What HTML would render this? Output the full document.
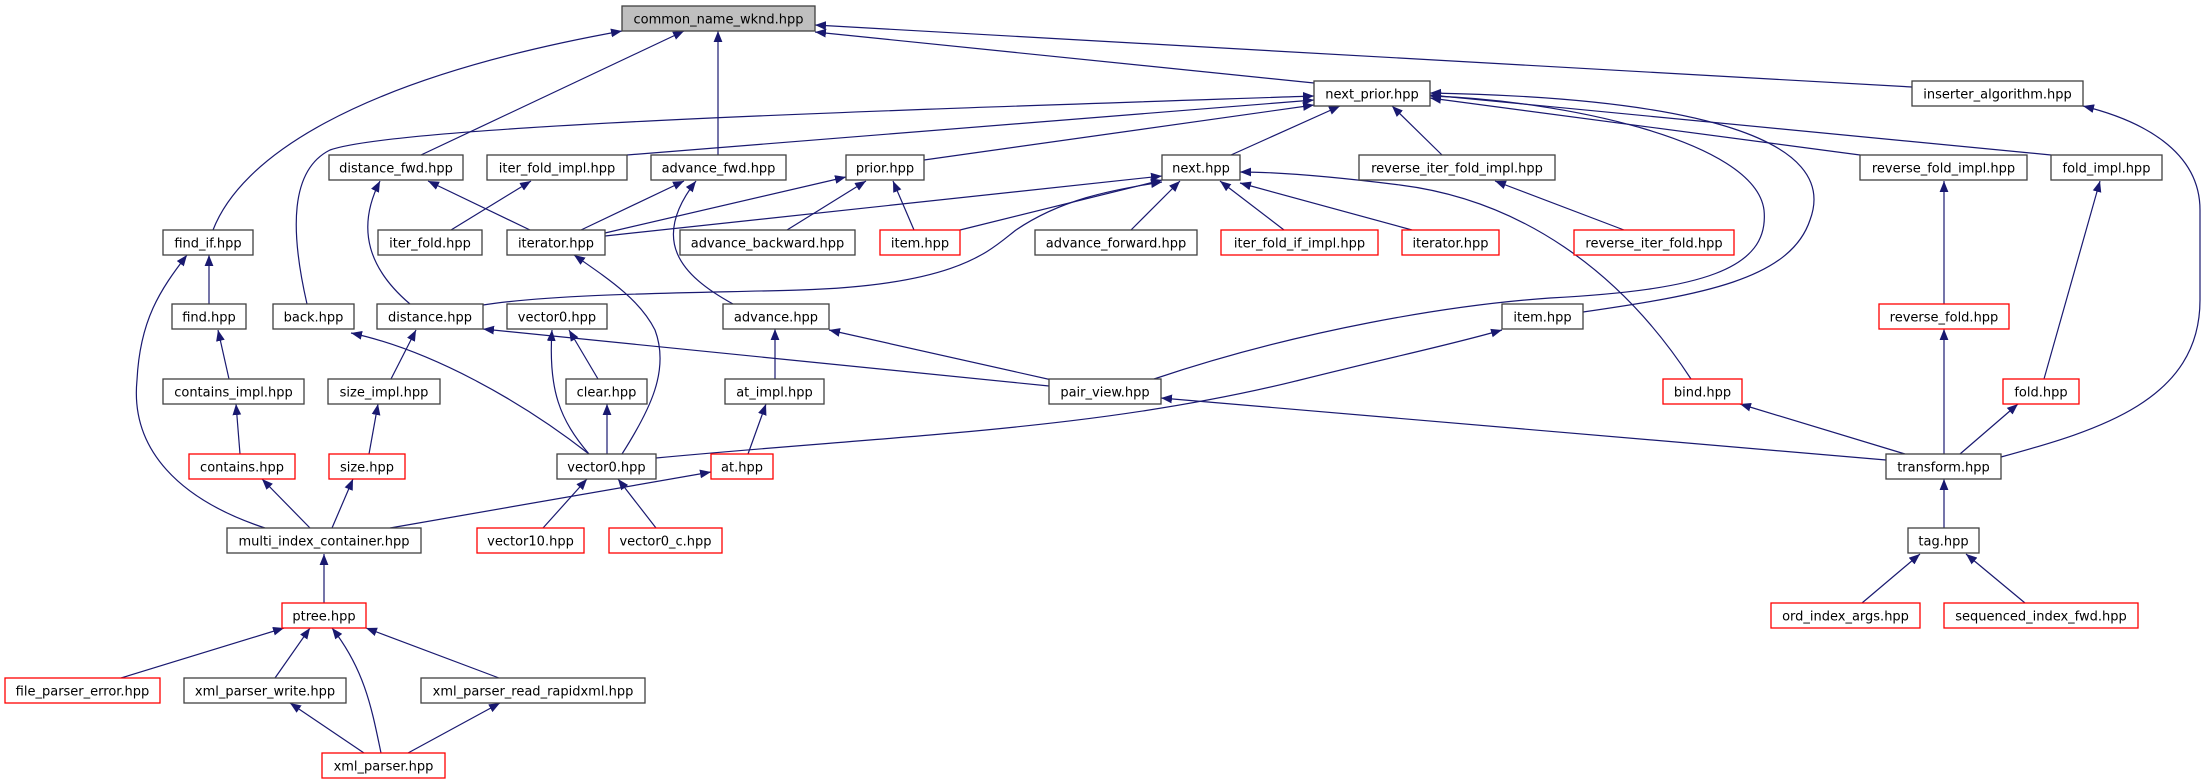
<!DOCTYPE html>
<html><head><meta charset="utf-8"><style>
html,body{margin:0;padding:0;background:#fff;}
svg{display:block;}
text{font-family:"DejaVu Sans","Liberation Sans",sans-serif;font-size:13px;fill:#000;}
.e{fill:none;stroke:#191970;stroke-width:1.2;marker-end:url(#a);}
.n{fill:#fff;stroke:#404040;stroke-width:1.3;}
.r{fill:#fff;stroke:#ff0000;stroke-width:1.3;}
</style></head><body>
<svg width="2206" height="784" viewBox="0 0 2206 784" xmlns="http://www.w3.org/2000/svg">
<defs><marker id="a" viewBox="0 0 10 8" markerWidth="11" markerHeight="9" refX="10" refY="4" orient="auto" markerUnits="userSpaceOnUse"><path d="M0,0 L10,4 L0,8 z" fill="#191970"/></marker></defs>
<g>
<path class="e" d="M1314,83 L815,32"/>
<path class="e" d="M1912,87 L815,25"/>
<path class="e" d="M213,230 C240,160 350,80 622,31"/>
<path class="e" d="M421,155 L684,31"/>
<path class="e" d="M718,155 L718,31"/>
<path class="e" d="M307,304 C290,230 290,170 330,150 C400,125 900,110 1314,96"/>
<path class="e" d="M627,155 L1314,100"/>
<path class="e" d="M924,160 L1314,105"/>
<path class="e" d="M1231,155 L1340,106"/>
<path class="e" d="M1442,155 L1392,106"/>
<path class="e" d="M1860,155 L1430,98"/>
<path class="e" d="M2051,155 L1430,95"/>
<path class="e" d="M1154,379 C1300,330 1450,305 1550,298 C1700,290 1770,270 1764,210 C1755,140 1560,100 1430,96"/>
<path class="e" d="M1583,312 C1700,295 1790,280 1810,220 C1840,140 1700,98 1430,93"/>
<path class="e" d="M2001,457 C2100,430 2200,400 2200,300 L2200,210 C2200,150 2140,120 2083,106"/>
<path class="e" d="M530,230 L428,181"/>
<path class="e" d="M410,304 C370,270 355,230 380,181"/>
<path class="e" d="M451,230 L531,181"/>
<path class="e" d="M581,230 L684,181"/>
<path class="e" d="M733,304 C680,275 650,240 696,181"/>
<path class="e" d="M605,233 L846,177"/>
<path class="e" d="M787,230 L866,181"/>
<path class="e" d="M914,230 L893,181"/>
<path class="e" d="M605,236 L1162,176"/>
<path class="e" d="M960,230 L1162,180"/>
<path class="e" d="M483,305 C560,293 700,293 800,290 C960,285 990,250 1016,230 C1060,200 1110,190 1162,182"/>
<path class="e" d="M1131,230 L1180,181"/>
<path class="e" d="M1284,230 L1220,181"/>
<path class="e" d="M1412,230 L1240,183"/>
<path class="e" d="M1691,379 C1620,270 1520,200 1400,185 C1320,175 1270,172 1240,172"/>
<path class="e" d="M1624,230 L1495,181"/>
<path class="e" d="M1944,304 L1944,181"/>
<path class="e" d="M1944,454 L1944,329"/>
<path class="e" d="M2044,379 L2100,181"/>
<path class="e" d="M1960,454 L2018,404"/>
<path class="e" d="M209,304 L209,255"/>
<path class="e" d="M265,528 C180,500 130,450 137,380 C140,320 160,290 187,255"/>
<path class="e" d="M229,379 L218,330"/>
<path class="e" d="M240,454 L236,404"/>
<path class="e" d="M310,528 L262,479"/>
<path class="e" d="M589,454 C520,400 430,350 351,333"/>
<path class="e" d="M391,379 L416,330"/>
<path class="e" d="M369,454 L378,404"/>
<path class="e" d="M332,528 L353,479"/>
<path class="e" d="M1049,386 L483,329"/>
<path class="e" d="M589,454 C560,420 548,390 552,330"/>
<path class="e" d="M598,379 L569,330"/>
<path class="e" d="M607,454 L607,404"/>
<path class="e" d="M622,454 C650,410 670,370 655,330 C640,300 610,280 574,255"/>
<path class="e" d="M775,379 L775,329"/>
<path class="e" d="M748,454 L766,404"/>
<path class="e" d="M390,528 L711,472"/>
<path class="e" d="M1052,380 L829,330"/>
<path class="e" d="M656,458 C900,435 1100,430 1300,380 C1400,355 1450,345 1502,330"/>
<path class="e" d="M1886,460 L1161,398"/>
<path class="e" d="M1905,454 L1740,404"/>
<path class="e" d="M543,528 L587,479"/>
<path class="e" d="M656,528 L618,479"/>
<path class="e" d="M1944,528 L1944,479"/>
<path class="e" d="M1862,603 L1920,554"/>
<path class="e" d="M2025,603 L1966,554"/>
<path class="e" d="M324,603 L324,554"/>
<path class="e" d="M121,678 L284,628"/>
<path class="e" d="M275,678 L310,628"/>
<path class="e" d="M381,753 C372,710 365,670 332,628"/>
<path class="e" d="M499,678 L366,628"/>
<path class="e" d="M364,753 L290,703"/>
<path class="e" d="M408,753 L500,703"/>
</g>
<g>
<rect x="622" y="6" width="193" height="25" fill="#bfbfbf" stroke="#404040" stroke-width="1.3"/><text x="718.5" y="23.5" text-anchor="middle">common_name_wknd.hpp</text>
<rect class="n" x="1314" y="81" width="116" height="25"/><text x="1372" y="98.5" text-anchor="middle">next_prior.hpp</text>
<rect class="n" x="1912" y="81" width="171" height="25"/><text x="1997.5" y="98.5" text-anchor="middle">inserter_algorithm.hpp</text>
<rect class="n" x="329" y="155" width="134" height="25"/><text x="396" y="172.5" text-anchor="middle">distance_fwd.hpp</text>
<rect class="n" x="487" y="155" width="140" height="25"/><text x="557" y="172.5" text-anchor="middle">iter_fold_impl.hpp</text>
<rect class="n" x="651" y="155" width="135" height="25"/><text x="718.5" y="172.5" text-anchor="middle">advance_fwd.hpp</text>
<rect class="n" x="846" y="155" width="78" height="25"/><text x="885" y="172.5" text-anchor="middle">prior.hpp</text>
<rect class="n" x="1162" y="155" width="78" height="25"/><text x="1201" y="172.5" text-anchor="middle">next.hpp</text>
<rect class="n" x="1359" y="155" width="196" height="25"/><text x="1457" y="172.5" text-anchor="middle">reverse_iter_fold_impl.hpp</text>
<rect class="n" x="1860" y="155" width="167" height="25"/><text x="1943.5" y="172.5" text-anchor="middle">reverse_fold_impl.hpp</text>
<rect class="n" x="2051" y="155" width="111" height="25"/><text x="2106.5" y="172.5" text-anchor="middle">fold_impl.hpp</text>
<rect class="n" x="163" y="230" width="90" height="25"/><text x="208" y="247.5" text-anchor="middle">find_if.hpp</text>
<rect class="n" x="378" y="230" width="104" height="25"/><text x="430" y="247.5" text-anchor="middle">iter_fold.hpp</text>
<rect class="n" x="507" y="230" width="98" height="25"/><text x="556" y="247.5" text-anchor="middle">iterator.hpp</text>
<rect class="n" x="680" y="230" width="175" height="25"/><text x="767.5" y="247.5" text-anchor="middle">advance_backward.hpp</text>
<rect class="r" x="880" y="230" width="80" height="25"/><text x="920" y="247.5" text-anchor="middle">item.hpp</text>
<rect class="n" x="1035" y="230" width="162" height="25"/><text x="1116" y="247.5" text-anchor="middle">advance_forward.hpp</text>
<rect class="r" x="1221" y="230" width="157" height="25"/><text x="1299.5" y="247.5" text-anchor="middle">iter_fold_if_impl.hpp</text>
<rect class="r" x="1402" y="230" width="97" height="25"/><text x="1450.5" y="247.5" text-anchor="middle">iterator.hpp</text>
<rect class="r" x="1574" y="230" width="160" height="25"/><text x="1654" y="247.5" text-anchor="middle">reverse_iter_fold.hpp</text>
<rect class="n" x="172" y="304" width="74" height="25"/><text x="209" y="321.5" text-anchor="middle">find.hpp</text>
<rect class="n" x="273" y="304" width="81" height="25"/><text x="313.5" y="321.5" text-anchor="middle">back.hpp</text>
<rect class="n" x="377" y="304" width="106" height="25"/><text x="430" y="321.5" text-anchor="middle">distance.hpp</text>
<rect class="n" x="507" y="304" width="100" height="25"/><text x="557" y="321.5" text-anchor="middle">vector0.hpp</text>
<rect class="n" x="723" y="304" width="106" height="25"/><text x="776" y="321.5" text-anchor="middle">advance.hpp</text>
<rect class="n" x="1502" y="304" width="81" height="25"/><text x="1542.5" y="321.5" text-anchor="middle">item.hpp</text>
<rect class="r" x="1879" y="304" width="130" height="25"/><text x="1944" y="321.5" text-anchor="middle">reverse_fold.hpp</text>
<rect class="n" x="163" y="379" width="141" height="25"/><text x="233.5" y="396.5" text-anchor="middle">contains_impl.hpp</text>
<rect class="n" x="328" y="379" width="112" height="25"/><text x="384" y="396.5" text-anchor="middle">size_impl.hpp</text>
<rect class="n" x="566" y="379" width="81" height="25"/><text x="606.5" y="396.5" text-anchor="middle">clear.hpp</text>
<rect class="n" x="725" y="379" width="99" height="25"/><text x="774.5" y="396.5" text-anchor="middle">at_impl.hpp</text>
<rect class="n" x="1049" y="379" width="112" height="25"/><text x="1105" y="396.5" text-anchor="middle">pair_view.hpp</text>
<rect class="r" x="1663" y="379" width="79" height="25"/><text x="1702.5" y="396.5" text-anchor="middle">bind.hpp</text>
<rect class="r" x="2003" y="379" width="76" height="25"/><text x="2041" y="396.5" text-anchor="middle">fold.hpp</text>
<rect class="r" x="189" y="454" width="106" height="25"/><text x="242" y="471.5" text-anchor="middle">contains.hpp</text>
<rect class="r" x="329" y="454" width="76" height="25"/><text x="367" y="471.5" text-anchor="middle">size.hpp</text>
<rect class="n" x="557" y="454" width="99" height="25"/><text x="606.5" y="471.5" text-anchor="middle">vector0.hpp</text>
<rect class="r" x="711" y="454" width="62" height="25"/><text x="742" y="471.5" text-anchor="middle">at.hpp</text>
<rect class="n" x="1886" y="454" width="115" height="25"/><text x="1943.5" y="471.5" text-anchor="middle">transform.hpp</text>
<rect class="n" x="227" y="528" width="194" height="25"/><text x="324" y="545.5" text-anchor="middle">multi_index_container.hpp</text>
<rect class="r" x="477" y="528" width="107" height="25"/><text x="530.5" y="545.5" text-anchor="middle">vector10.hpp</text>
<rect class="r" x="609" y="528" width="113" height="25"/><text x="665.5" y="545.5" text-anchor="middle">vector0_c.hpp</text>
<rect class="n" x="1908" y="528" width="71" height="25"/><text x="1943.5" y="545.5" text-anchor="middle">tag.hpp</text>
<rect class="r" x="282" y="603" width="84" height="25"/><text x="324" y="620.5" text-anchor="middle">ptree.hpp</text>
<rect class="r" x="1771" y="603" width="149" height="25"/><text x="1845.5" y="620.5" text-anchor="middle">ord_index_args.hpp</text>
<rect class="r" x="1944" y="603" width="194" height="25"/><text x="2041" y="620.5" text-anchor="middle">sequenced_index_fwd.hpp</text>
<rect class="r" x="5" y="678" width="155" height="25"/><text x="82.5" y="695.5" text-anchor="middle">file_parser_error.hpp</text>
<rect class="n" x="184" y="678" width="162" height="25"/><text x="265" y="695.5" text-anchor="middle">xml_parser_write.hpp</text>
<rect class="n" x="421" y="678" width="224" height="25"/><text x="533" y="695.5" text-anchor="middle">xml_parser_read_rapidxml.hpp</text>
<rect class="r" x="322" y="753" width="123" height="25"/><text x="383.5" y="770.5" text-anchor="middle">xml_parser.hpp</text>
</g>
</svg>
</body></html>
